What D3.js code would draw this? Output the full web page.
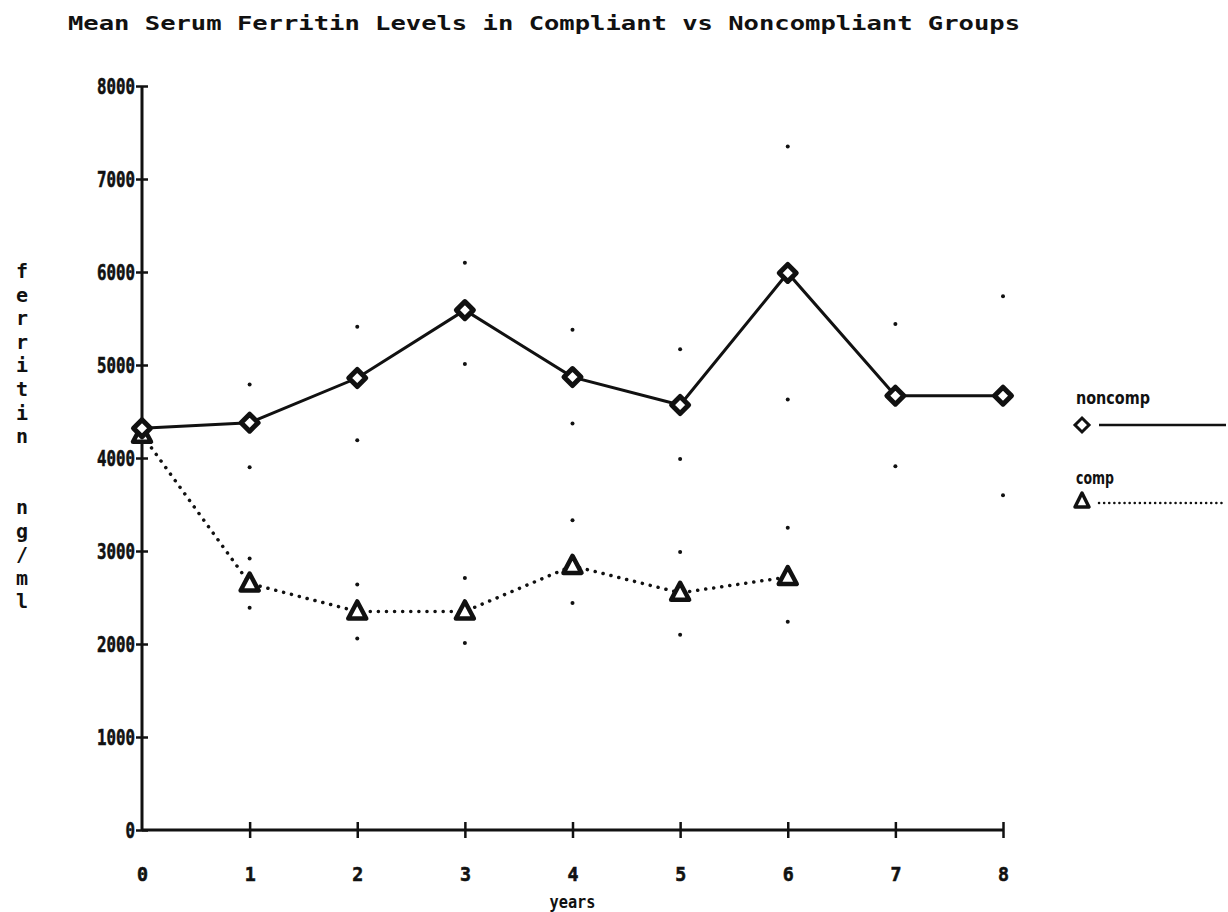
<!DOCTYPE html>
<html>
<head>
<meta charset="utf-8">
<script src="https://d3js.org/d3.v7.min.js"></script>
<style>
  body { margin: 0; background: #fff; }
  svg text { fill: #111; }
</style>
</head>
<body>
<svg width="1228" height="912" class="chart"></svg>
<script>
  // data
  const years = [0, 1, 2, 3, 4, 5, 6, 7, 8];
  const yTicks = [0, 1000, 2000, 3000, 4000, 5000, 6000, 7000, 8000];

  const noncompMean  = [4320, 4380, 4860, 5590, 4870, 4570, 5990, 4670, 4670];
  const noncompUpper = [null, 4790, 5410, 6100, 5380, 5170, 7350, 5440, 5740];
  const noncompLower = [null, 3900, 4190, 5010, 4370, 3990, 4630, 3910, 3600];

  const compYears = [0, 1, 2, 3, 4, 5, 6];
  const compMean  = [4250, 2650, 2350, 2350, 2840, 2550, 2720];
  const compUpper = [null, 2920, 2640, 2710, 3330, 2990, 3250];
  const compLower = [null, 2390, 2060, 2010, 2440, 2100, 2240];

  const svg = d3.select(".chart");
  const ink = "#111";
  const mono = "'DejaVu Sans Mono', monospace";

  const x = d3.scaleLinear().domain([0, 8]).range([142, 1003]);
  const y = d3.scaleLinear().domain([0, 8000]).range([830, 86]);

  // title
  svg.append("text")
    .attr("x", 68).attr("y", 30)
    .attr("textLength", 952).attr("lengthAdjust", "spacingAndGlyphs")
    .style("font-family", mono).style("font-weight", "bold").style("font-size", "19px")
    .text("Mean Serum Ferritin Levels in Compliant vs Noncompliant Groups");

  // y axis
  const gy = svg.append("g")
    .attr("transform", "translate(" + x(0) + ",0)")
    .call(d3.axisLeft(y).tickValues(yTicks).tickSize(6).tickPadding(1).tickFormat(d => d));
  gy.select(".domain").attr("stroke", ink).attr("stroke-width", 3).attr("d", "M0," + y(8000) + "V" + y(0));
  gy.selectAll(".tick line").attr("stroke", ink).attr("stroke-width", 2.5).attr("x1", 6);
  gy.selectAll(".tick text")
    .style("font-family", mono).style("font-weight", "bold").style("font-size", "22px")
    .style("stroke", ink).style("stroke-width", 0.6)
    .attr("textLength", d => String(d).length * 9.5).attr("lengthAdjust", "spacingAndGlyphs")
    .attr("dy", "0.36em");

  // x axis
  const gx = svg.append("g")
    .attr("transform", "translate(0," + y(0) + ")")
    .call(d3.axisBottom(x).tickValues(years).tickSize(8).tickPadding(29).tickFormat(d => d));
  gx.select(".domain").attr("stroke", ink).attr("stroke-width", 3).attr("d", "M" + x(0) + ",0H" + x(8));
  gx.selectAll(".tick line").attr("stroke", ink).attr("stroke-width", 2.5).attr("y1", -8);
  gx.selectAll(".tick").filter(d => d === 0).select("line").remove();
  gx.selectAll(".tick text")
    .style("font-family", mono).style("font-weight", "bold").style("font-size", "20px")
    .style("stroke", ink).style("stroke-width", 0.6)
    .attr("textLength", 11).attr("lengthAdjust", "spacingAndGlyphs");

  svg.append("text")
    .attr("x", x(4)).attr("y", 908)
    .attr("text-anchor", "middle")
    .style("font-family", mono).style("font-weight", "bold").style("font-size", "17px")
    .attr("textLength", 46).attr("lengthAdjust", "spacingAndGlyphs")
    .text("years");

  // vertical y label, one letter per row
  const yLabel = "ferritin  ng/ml".split("");
  svg.append("g").selectAll("text")
    .data(yLabel)
    .enter().append("text")
    .attr("x", 22)
    .attr("y", (d, i) => 278 + i * 23.6)
    .attr("text-anchor", "middle")
    .style("font-family", mono).style("font-weight", "bold").style("font-size", "20px")
    .text(d => d);

  // lines
  const line = d3.line().x(d => x(d[0])).y(d => y(d[1]));

  svg.append("path")
    .datum(compYears.map((yr, i) => [yr, compMean[i]]))
    .attr("d", line)
    .attr("fill", "none").attr("stroke", ink)
    .attr("stroke-width", 3.5).attr("stroke-linecap", "round")
    .attr("stroke-dasharray", "0.1 8");

  svg.append("path")
    .datum(years.map((yr, i) => [yr, noncompMean[i]]))
    .attr("d", line)
    .attr("fill", "none").attr("stroke", ink).attr("stroke-width", 3);

  // error dots
  const errDots = [];
  years.forEach((yr, i) => {
    if (noncompUpper[i] != null) errDots.push([yr, noncompUpper[i]], [yr, noncompLower[i]]);
  });
  compYears.forEach((yr, i) => {
    if (compUpper[i] != null) errDots.push([yr, compUpper[i]], [yr, compLower[i]]);
  });
  svg.append("g").selectAll("circle")
    .data(errDots)
    .enter().append("circle")
    .attr("cx", d => x(d[0])).attr("cy", d => y(d[1]))
    .attr("r", 2).attr("fill", ink);

  // markers
  const diamond = "M0,-8.5L8.5,0L0,8.5L-8.5,0Z";
  const triangle = "M0,-10L9,7L-9,7Z";

  svg.append("g").selectAll("path")
    .data(compYears.map((yr, i) => [yr, compMean[i]]))
    .enter().append("path")
    .attr("d", triangle)
    .attr("transform", d => "translate(" + x(d[0]) + "," + y(d[1]) + ")")
    .attr("fill", "#fff").attr("stroke", ink).attr("stroke-width", 4.5).attr("stroke-linejoin", "round");

  svg.append("g").selectAll("path")
    .data(years.map((yr, i) => [yr, noncompMean[i]]))
    .enter().append("path")
    .attr("d", diamond)
    .attr("transform", d => "translate(" + x(d[0]) + "," + y(d[1]) + ")")
    .attr("fill", "#fff").attr("stroke", ink).attr("stroke-width", 5).attr("stroke-linejoin", "round");

  // legend
  const legend = svg.append("g");
  legend.append("text").attr("x", 1076).attr("y", 404)
    .style("font-family", "'DejaVu Sans', sans-serif").style("font-weight", "bold").style("font-size", "17px")
    .attr("textLength", 74).attr("lengthAdjust", "spacingAndGlyphs")
    .text("noncomp");
  legend.append("path").attr("d", "M0,-7L7,0L0,7L-7,0Z")
    .attr("transform", "translate(1082,425)")
    .attr("fill", "#fff").attr("stroke", ink).attr("stroke-width", 3);
  legend.append("line").attr("x1", 1099).attr("x2", 1226).attr("y1", 425).attr("y2", 425)
    .attr("stroke", ink).attr("stroke-width", 2.5);

  legend.append("text").attr("x", 1076).attr("y", 484)
    .style("font-family", "'DejaVu Sans', sans-serif").style("font-weight", "bold").style("font-size", "17px")
    .attr("textLength", 38).attr("lengthAdjust", "spacingAndGlyphs")
    .text("comp");
  legend.append("path").attr("d", "M0,-8L7,6L-7,6Z")
    .attr("transform", "translate(1082,501)")
    .attr("fill", "#fff").attr("stroke", ink).attr("stroke-width", 3.5).attr("stroke-linejoin", "round");
  legend.append("line").attr("x1", 1099).attr("x2", 1226).attr("y1", 503).attr("y2", 503)
    .attr("stroke", ink).attr("stroke-width", 2.5).attr("stroke-linecap", "round")
    .attr("stroke-dasharray", "0.1 5");
</script>
</body>
</html>
